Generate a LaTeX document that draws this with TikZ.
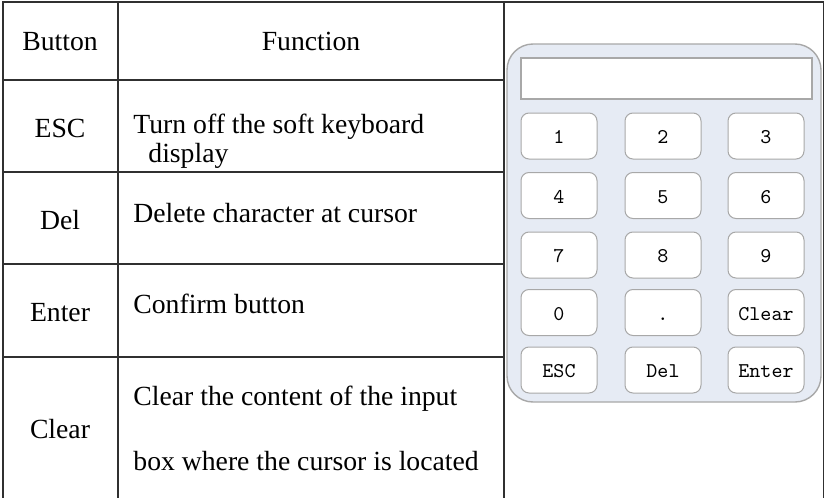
\documentclass[tikz,border=0pt]{standalone}
\usepackage{fontspec}
\setmainfont{Liberation Serif}
\usepackage{tikz}
\usetikzlibrary{calc}

\definecolor{padfill}{HTML}{E6EBF4}
\definecolor{paddraw}{HTML}{A8A8A8}
\definecolor{rule}{HTML}{303030}

\begin{document}
\begin{tikzpicture}[x=0.5pt,y=-0.5pt,
    cell/.style={anchor=base,font=\fontsize{13.85}{16}\selectfont,inner sep=0pt},
    func/.style={anchor=base west,font=\fontsize{13.85}{16}\selectfont,inner sep=0pt},
    key/.style={draw=paddraw,fill=white,rounded corners=4pt,line width=0.5pt,
      minimum width=38pt,minimum height=23pt,inner sep=0pt,
      text height=7.5pt,text depth=0pt,font=\ttfamily\fontsize{10.5}{12}\selectfont},
    grid/.style={draw=rule,line width=0.65pt}]
    \useasboundingbox (0,0) rectangle (825,498);
    % table
    \draw[grid] (3,498) -- (3,2) -- (823.5,2) -- (823.5,498);
    \draw[grid] (118,2) -- (118,498);
    \draw[grid] (504,2) -- (504,498);
    \draw[grid] (3, 80) -- (504, 80);
    \draw[grid] (3,172) -- (504,172);
    \draw[grid] (3,264) -- (504,264);
    \draw[grid] (3,357) -- (504,357);
    \node[cell] (hbtn) at (60, 50) {Button};
    \node[cell] (hfun) at (311, 50) {Function};
    \node[cell] (besc) at (60,137) {ESC};
    \node[func] (fesc) at (133,133) {Turn off the soft keyboard};
    \node[func] (fesc2) at (148,162) {display};
    \node[cell] (bdel) at (60,229) {Del};
    \node[func] (fdel) at (133,222) {Delete character at cursor};
    \node[cell] (bent) at (60,321) {Enter};
    \node[func] (fent) at (133,313) {Confirm button};
    \node[cell] (bclr) at (60,438) {Clear};
    \node[func] (fclr) at (133,405) {Clear the content of the input};
    \node[func] (fclr2) at (133,470) {box where the cursor is located};
    % soft keyboard
    \draw[draw=paddraw,fill=padfill,line width=0.7pt,rounded corners=13pt]
      (507,44) rectangle (821,402);
    \draw[draw=paddraw,fill=white,line width=0.6pt] (521,58) rectangle (812,99);
    \node[key] (k1) at (559,136) {1};
    \node[key] (k2) at (663,136) {2};
    \node[key] (k3) at (766,136) {3};
    \node[key] (k4) at (559,195.5) {4};
    \node[key] (k5) at (663,195.5) {5};
    \node[key] (k6) at (766,195.5) {6};
    \node[key] (k7) at (559,255) {7};
    \node[key] (k8) at (663,255) {8};
    \node[key] (k9) at (766,255) {9};
    \node[key] (k0) at (559,312.5) {0};
    \node[key] (kdot) at (663,312.5) {.};
    \node[key] (kclr) at (766,312.5) {Clear};
    \node[key] (kesc) at (559,370) {ESC};
    \node[key] (kdel) at (663,370) {Del};
    \node[key] (kent) at (766,370) {Enter};
\end{tikzpicture}
\end{document}
